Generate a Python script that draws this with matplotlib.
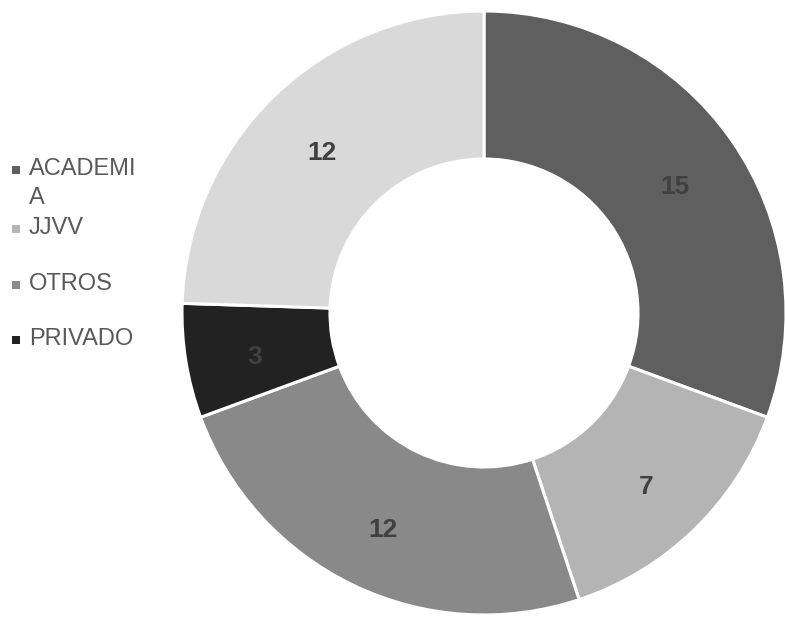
import matplotlib
matplotlib.use("Agg")
import matplotlib.pyplot as plt
from matplotlib.patches import Rectangle

plt.rcParams['font.family'] = ['Liberation Sans', 'DejaVu Sans']

# Data (clockwise from 12 o'clock)
categories = ["ACADEMIA", "JJVV", "OTROS", "PRIVADO", "(sin leyenda)"]
values = [15, 7, 12, 3, 12]
colors = ["#5f5f5f", "#b4b4b4", "#898989", "#222222", "#d9d9d9"]
legend_labels = ["ACADEMI\nA", "JJVV", "OTROS", "PRIVADO"]

W, H = 785, 620
fig = plt.figure(figsize=(W / 100, H / 100), dpi=100)

cx, cy, R = 484, 313, 302
ax = fig.add_axes([(cx - R) / W, 1 - (cy + R) / H, 2 * R / W, 2 * R / H])
ax.set_xlim(-1, 1)
ax.set_ylim(-1, 1)
ax.set_aspect('equal')
ax.axis('off')

total = sum(values)
wedges, texts, autotexts = ax.pie(
    values, colors=colors, startangle=90, counterclock=False, radius=1.0,
    wedgeprops=dict(width=0.49, edgecolor='white', linewidth=2.2),
    autopct=lambda p: f"{round(p * total / 100):d}", pctdistance=0.77,
    textprops=dict(color="#404040", fontsize=19, fontweight='bold'))
ax.set_xlim(-1, 1)
ax.set_ylim(-1, 1)
for t in autotexts:
    x, y = t.get_position()
    t.set_position((x, y - 7 / R))

# Legend (manual, first four entries visible)
leg_y = [170, 229, 285, 340]
for lab, col, y in zip(legend_labels, colors, leg_y):
    fig.patches.append(Rectangle((12 / W, 1 - (y + 4) / H), 8 / W, 8 / H,
                                 transform=fig.transFigure, facecolor=col,
                                 edgecolor='none'))
    fig.text(29 / W, 1 - (y - 12) / H, lab, fontsize=17, color="#595959",
             va='top', ha='left', linespacing=1.42)

fig.savefig("out.png", dpi=100, facecolor='white')
